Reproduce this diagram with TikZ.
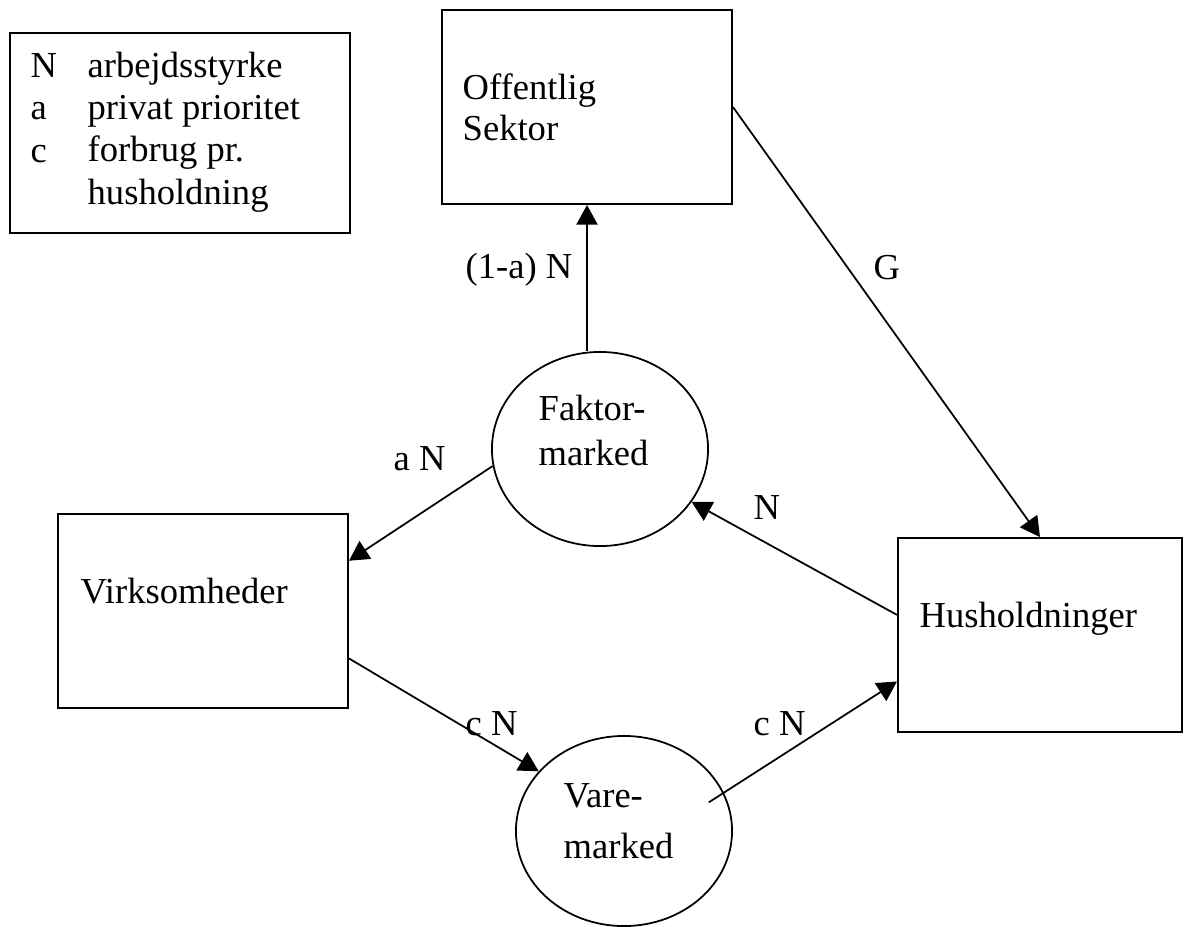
\documentclass[tikz,border=0pt]{standalone}
\usepackage{fontspec}
\setmainfont{Liberation Serif}
\usetikzlibrary{arrows.meta,shapes.geometric}

\begin{document}
\begin{tikzpicture}[x=0.01cm,y=-0.01cm,
	kasse/.style={draw,line width=.5pt,minimum width=2.9cm,minimum height=1.94cm,inner sep=0pt},
	marked/.style={draw,ellipse,line width=.5pt,minimum width=2.16cm,minimum height=1.94cm,inner sep=0pt},
	tekst/.style={anchor=base west,inner sep=0pt,align=left,font=\fontsize{10.4}{11.95}\selectfont},
	pil/.style={-{Triangle[length=5.6pt,width=6pt]},line width=.5pt}]

	\useasboundingbox (0,0) rectangle (1184,926);

	\node[kasse,minimum width=3.4cm,minimum height=2cm] (forklaring) at (180,133) {};
	\node[tekst] (symboler) at (30,162) {N\\a\\c};
	\node[tekst] (betydning) at (87,204) {arbejdsstyrke\\privat prioritet\\forbrug pr.\\husholdning};

	\node[kasse] (off) at (587,107) {};
	\node[tekst] (offtekst) at (462,140) {Offentlig\\[-0.02cm]Sektor};

	\node[kasse] (virk) at (203,611) {};
	\node[tekst] (virktekst) at (80,603) {Virksomheder};

	\node[kasse,minimum width=2.84cm] (hus) at (1040,635) {};
	\node[tekst] (hustekst) at (919,627) {Husholdninger};

	\node[marked] (fak) at (600,449) {};
	\node[tekst] (faktekst) at (538,465) {Faktor-\\[0.02cm]marked};

	\node[marked,minimum height=1.9cm] (vare) at (624,831) {};
	\node[tekst] (varetekst) at (563,858) {Vare-\\[0.08cm]marked};

	\draw[pil] (fak.north -| off.south) -- (off.south);
	\draw[pil] (off.east) -- (hus.north);
	\draw[pil] (fak.189) -- (virk.19);
	\draw[pil] (hus.172) -- (fak.-30);
	\draw[pil] (virk.-18) -- (vare.145);
	\draw[pil,shorten <=-0.18cm] (vare.21) -- (hus.198);

	\node[tekst] (lblfak) at (465,278) {(1-a) N};

	\node[tekst] (lblG) at (873,279) {G};

	\node[tekst] (lblaN) at (393,470) {a N};

	\node[tekst] (lblN) at (753,519) {N};

	\node[tekst] (lblcN) at (465,735) {c N};

	\node[tekst] (lblcNto) at (753,735) {c N};
\end{tikzpicture}
\end{document}
